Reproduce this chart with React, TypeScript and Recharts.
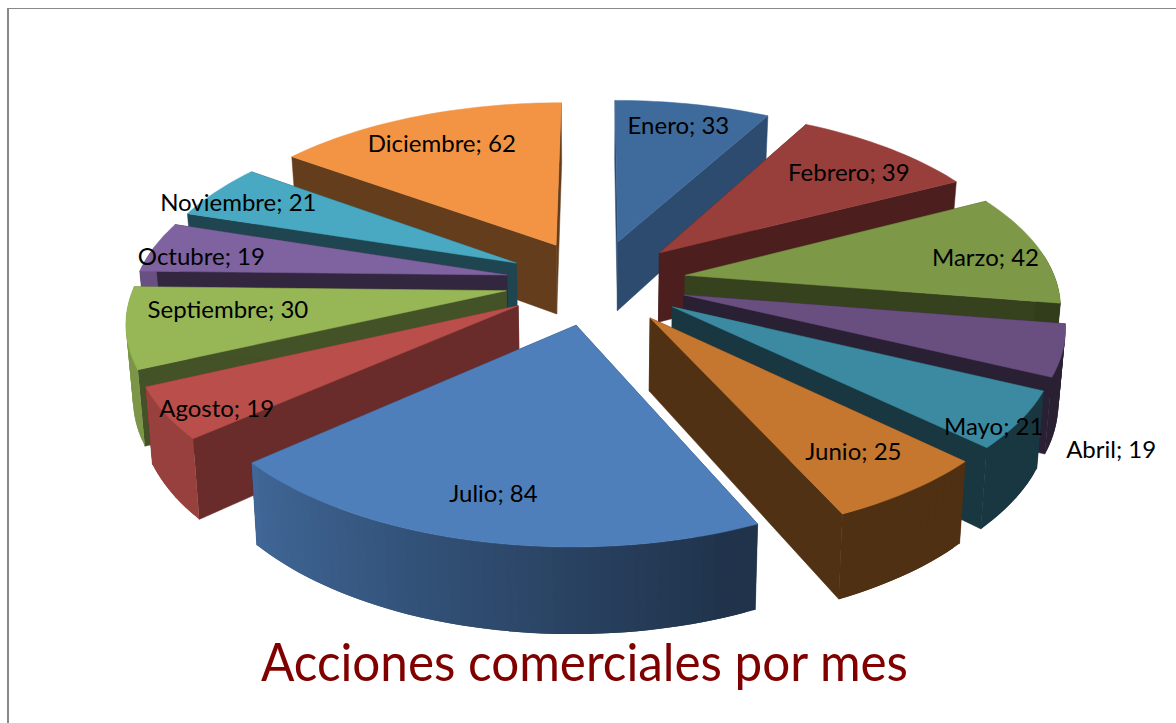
import { PieChart, Pie } from 'recharts'

const months = ['Enero', 'Febrero', 'Marzo', 'Abril', 'Mayo', 'Junio', 'Julio', 'Agosto', 'Septiembre', 'Octubre', 'Noviembre', 'Diciembre']
const actions = [33, 39, 42, 19, 21, 25, 84, 19, 30, 19, 21, 62]

// styling per month
const topColours = ['#3e6a9c', '#983e3b', '#7d9846', '#694f80', '#3b8aa2', '#c6772f', '#4f7fbb', '#b94e4a', '#97b757', '#7f62a0', '#49a8c2', '#f39444']
const cutShade = [0.71, 0.5, 0.43, 0.4, 0.4, 0.41, 0.5, 0.57, 0.45, 0.4, 0.41, 0.41]
const labelNudge = [[-1, -5], [3, 4], [16, 3], [127, 109], [48, 30], [1, -2], [-6, 1], [-24, 17], [24, -12], [-22, 3], [-35, -4], [0, 3]]

// back to front, so nearer slices paint over further ones
const drawOrder = ['Enero', 'Diciembre', 'Febrero', 'Noviembre', 'Octubre', 'Marzo', 'Septiembre', 'Abril', 'Agosto', 'Mayo', 'Junio', 'Julio']

const data = months.map((name, i) => ({ name, value: actions[i] }))

const CX = 596
const CY = 282
const RADIUS = 371
const SQUASH = 174 / 371
const PERSPECTIVE = 0.15
const DEPTH = 71
const EXPLODE = 0.245

const rad = (d: number) => (d * Math.PI) / 180

// u/v on the pie plane (v points away from the viewer), t = 0 top face, 1 bottom face
function project(cx: number, cy: number, r: number, u: number, v: number, t = 0) {
  const w = 1 + PERSPECTIVE * v
  const k = 1 - 0.015 * t
  return [cx + (r * u * k) / w, cy - (r * SQUASH * v) / w + (DEPTH * t) / w]
}

function shade(hex: string, f: number) {
  const n = parseInt(hex.slice(1), 16)
  const c = [(n >> 16) & 255, (n >> 8) & 255, n & 255].map((x) => Math.round(x * f))
  return `rgb(${c[0]},${c[1]},${c[2]})`
}

const toPath = (pts: number[][]) => 'M' + pts.map((p) => `${p[0].toFixed(1)},${p[1].toFixed(1)}`).join('L') + 'Z'

function wallShade(theta: number) {
  const s = 0.4 + (0.42 * (theta - 160)) / 70
  return Math.max(0.4, Math.min(0.82, s))
}

function Slice3D(props: any) {
  const { cx, cy, outerRadius, startAngle, endAngle, midAngle, name } = props
  const i = months.indexOf(name)
  const colour = topColours[i]
  const from = 90 - startAngle
  const to = 90 - endAngle
  const mid = rad(90 - midAngle)
  const ox = EXPLODE * Math.sin(mid)
  const oy = EXPLODE * Math.cos(mid)
  const steps = Math.max(4, Math.ceil((to - from) / 1.5))
  const at = (theta: number, rr: number, t: number) =>
    project(cx, cy, outerRadius, ox + rr * Math.sin(rad(theta)), oy + rr * Math.cos(rad(theta)), t)

  const arc: number[][] = []
  for (let s = 0; s <= steps; s++) arc.push(at(from + ((to - from) * s) / steps, 1, 0))
  const cutFill = shade(colour, cutShade[i])
  const cut = (theta: number) => toPath([at(theta, 0, 0), at(theta, 1, 0), at(theta, 1, 1), at(theta, 0, 1)])

  // each strip runs under the next one, that hides the seams
  const wall = []
  const step = (to - from) / steps
  for (let s = 0; s < steps; s++) {
    const a = from + step * s
    const b = Math.min(to, a + step * 2)
    if (Math.cos(rad(a + step / 2)) > 0.15) continue
    wall.push(<path key={s} d={toPath([at(a, 1, 0), at(b, 1, 0), at(b, 1, 1), at(a, 1, 1)])} fill={shade(colour, wallShade(a + step / 2))} />)
  }

  return (
    <g>
      <path d={cut(from)} fill={cutFill} stroke={cutFill} strokeWidth={0.5} />
      <path d={cut(to)} fill={cutFill} stroke={cutFill} strokeWidth={0.5} />
      {wall}
      <path d={toPath([at(from, 0, 0), ...arc])} fill={colour} stroke={colour} strokeWidth={0.5} />
    </g>
  )
}

function SliceLabel(props: any) {
  const { cx, cy, outerRadius, midAngle, name, value } = props
  const i = months.indexOf(name)
  const mid = rad(90 - midAngle)
  const rr = EXPLODE + 0.8
  const p = project(cx, cy, outerRadius, rr * Math.sin(mid), rr * Math.cos(mid))
  return (
    <text x={p[0] + labelNudge[i][0]} y={p[1] + labelNudge[i][1]} textAnchor="middle" dominantBaseline="central" fill="#000" fontSize={24} fontFamily="Lato, sans-serif">
      {`${name}; ${value}`}
    </text>
  )
}

export default function App() {
  return (
    <div style={{ position: 'absolute', left: 0, top: 0, width: 1176, height: 723, background: '#fff', overflow: 'hidden' }}>
      <div style={{ position: 'absolute', left: 7, top: 8, right: -4, bottom: -4, borderTop: '1px solid #888', borderLeft: '2px solid #888' }} />
      <PieChart width={1176} height={723} margin={{ top: 0, right: 0, bottom: 0, left: 0 }} style={{ position: 'absolute', left: 0, top: 0 }}>
        {drawOrder.map((month) => (
          <Pie
            key={month}
            data={data}
            dataKey="value"
            nameKey="name"
            cx={CX}
            cy={CY}
            innerRadius={0}
            outerRadius={RADIUS}
            startAngle={90}
            endAngle={-270}
            stroke="none"
            isAnimationActive={false}
            shape={(p: any) => (p.name === month ? <Slice3D {...p} /> : <g />)}
          />
        ))}
        <Pie
          data={data}
          dataKey="value"
          nameKey="name"
          cx={CX}
          cy={CY}
          innerRadius={0}
          outerRadius={RADIUS}
          startAngle={90}
          endAngle={-270}
          stroke="none"
          isAnimationActive={false}
          shape={() => <g />}
          labelLine={false}
          label={(p: any) => <SliceLabel {...p} />}
        />
        <text x={584.5} y={681} textAnchor="middle" fill="#800000" fontSize={52} fontFamily="Lato, sans-serif" textLength={647} lengthAdjust="spacingAndGlyphs">
          Acciones comerciales por mes
        </text>
      </PieChart>
    </div>
  )
}
